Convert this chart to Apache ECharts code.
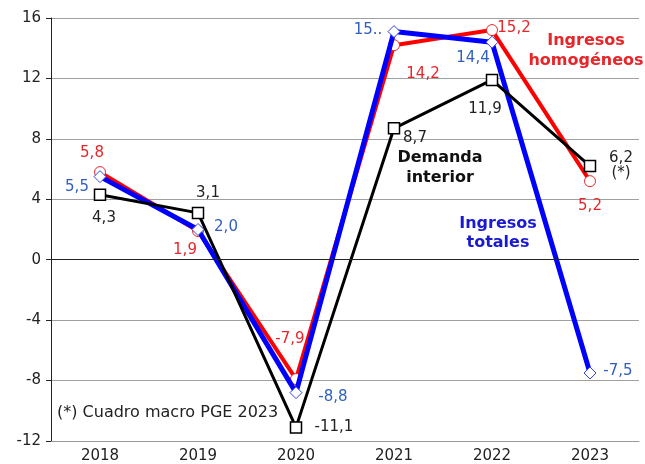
<!DOCTYPE html>
<html>
<head>
<meta charset="utf-8">
<script src="https://cdn.jsdelivr.net/npm/echarts@6/dist/echarts.min.js"></script>
<style>
  html, body { margin: 0; padding: 0; background: #fff; }
  #chart { width: 645px; height: 464px; }
</style>
</head>
<body>
<div id="chart"></div>
<script>
// datos
var years = ['2018', '2019', '2020', '2021', '2022', '2023']
var ingresosHomogeneos = [5.8, 1.9, -7.9, 14.2, 15.2, 5.2]
var ingresosTotales = [5.5, 2.0, -8.8, 15.1, 14.4, -7.5]
var demandaInterior = [4.3, 3.1, -11.1, 8.7, 11.9, 6.2]

// label offsets (px from the point)
var offRojo = [[-8, -19], [-13, 19], [-6, -40], [29, 29], [22, -2], [0, 25]]
var offAzul = [[-23, 10], [28, -2], [37, 4], [-26, -1], [-19, 16], [28, -2]]
var offNegro = [[4, 23], [10, -20], [38, 0], [21, 10], [-7, 29], [31, 0]]

var font = 'DejaVu Sans, Verdana, sans-serif'

function fmt(v) {
  return v.toFixed(1).replace('.', ',')
}

function buildData(values, offsets, color, special) {
  return values.map(function(v, i) {
    var txt = fmt(v)
    if (special && special[i]) txt = special[i]
    return {
      value: v,
      label: {
        show: true,
        position: 'inside',
        offset: offsets[i],
        formatter: txt,
        color: color,
        fontFamily: font,
        fontSize: 15,
        lineHeight: 15
      }
    }
  })
}

var chart = echarts.init(document.getElementById('chart'))

chart.setOption({
  animation: false,
  grid: { left: 51, right: 6, top: 18, bottom: 23 },
  xAxis: {
    type: 'category',
    data: years,
    boundaryGap: true,
    axisLine: { show: true, onZero: false, lineStyle: { color: '#999', width: 1 } },
    axisTick: { show: false },
    axisLabel: { color: '#222', fontFamily: font, fontSize: 15, margin: 8 }
  },
  yAxis: {
    type: 'value',
    min: -12,
    max: 16,
    interval: 4,
    axisLine: { show: true, lineStyle: { color: '#222', width: 1 } },
    axisTick: { show: true, length: 5, inside: false, lineStyle: { color: '#222' } },
    axisLabel: { color: '#222', fontFamily: font, fontSize: 15, margin: 10 },
    splitLine: { show: true, lineStyle: { color: '#a0a0a0', width: 1 } }
  },
  series: [
    {
      name: 'Ingresos homogéneos',
      type: 'line',
      data: buildData(ingresosHomogeneos, offRojo, '#e8262a'),
      symbol: 'circle',
      symbolSize: 11,
      lineStyle: { color: '#ff0000', width: 4 },
      itemStyle: { color: '#fff', borderColor: '#e8262a', borderWidth: 1 },
      z: 2
    },
    {
      name: 'Ingresos totales',
      type: 'line',
      data: buildData(ingresosTotales, offAzul, '#2f5fc0', { 3: '15..' }),
      symbol: 'diamond',
      symbolSize: 12,
      lineStyle: { color: '#0000ff', width: 5 },
      itemStyle: { color: '#fff', borderColor: '#3344dd', borderWidth: 1 },
      z: 3
    },
    {
      name: 'Demanda interior',
      type: 'line',
      data: buildData(demandaInterior, offNegro, '#222', { 5: '6,2\n(*)' }),
      symbol: 'rect',
      symbolSize: 11,
      lineStyle: { color: '#000', width: 3 },
      itemStyle: { color: '#fff', borderColor: '#000', borderWidth: 1.5 },
      z: 4
    },
    {
      // línea del cero
      type: 'line',
      data: [],
      markLine: {
        silent: true,
        symbol: 'none',
        label: { show: false },
        lineStyle: { color: '#222', width: 1, type: 'solid' },
        data: [{ yAxis: 0 }]
      },
      z: 1
    }
  ],
  graphic: [
    {
      type: 'text', x: 586, y: 31,
      style: {
        text: 'Ingresos\nhomogéneos', fill: '#e8262a', font: 'bold 16px ' + font,
        align: 'center', lineHeight: 20
      }
    },
    {
      type: 'text', x: 440, y: 148,
      style: {
        text: 'Demanda\ninterior', fill: '#111', font: 'bold 16px ' + font,
        align: 'center', lineHeight: 20
      }
    },
    {
      type: 'text', x: 498, y: 214,
      style: {
        text: 'Ingresos\ntotales', fill: '#1a1ad0', font: 'bold 16px ' + font,
        align: 'center', lineHeight: 19
      }
    },
    {
      type: 'text', x: 57, y: 405,
      style: {
        text: '(*) Cuadro macro PGE 2023', fill: '#222', font: '16px ' + font
      }
    }
  ]
})
</script>
</body>
</html>
